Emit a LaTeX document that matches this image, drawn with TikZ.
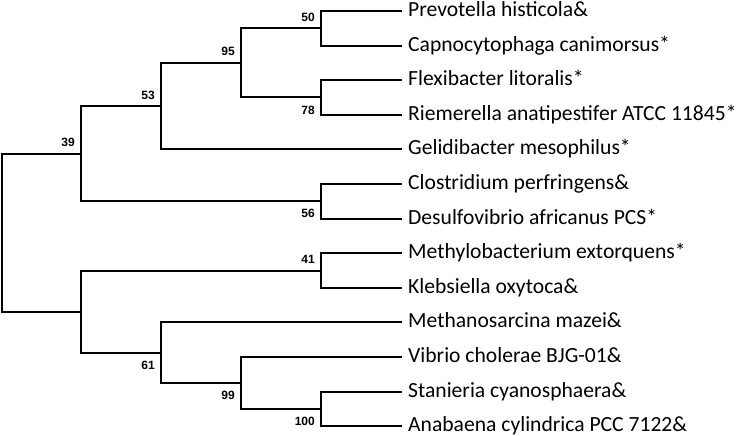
\documentclass[tikz,border=0pt]{standalone}
\usepackage{fontspec}
\setmainfont{Carlito}
\newfontfamily\labfont{Liberation Sans}
\begin{document}
\begin{tikzpicture}[x=1pt,y=-1pt,
  br/.style={line width=2pt,line cap=rect},
  leaf/.style={anchor=base west,inner sep=0pt,font=\fontsize{21.6}{21.6}\selectfont},
  supA/.style={anchor=base east,inner sep=0pt,font=\labfont\bfseries\fontsize{12}{12}\selectfont,xshift=-6pt,yshift=7pt},
  supB/.style={anchor=base east,inner sep=0pt,font=\labfont\bfseries\fontsize{12}{12}\selectfont,xshift=-6pt,yshift=-16.5pt}]
\useasboundingbox (0,0) rectangle (745,436);
% leaf tips
\foreach \n/\i in {l0/0,l1/1,l2/2,l3/3,l4/4,l5/5,l6/6,l7/7,l8/8,l9/9,l10/10,l11/11,l12/12}
  \coordinate (\n) at (401,{11+34.6*\i});
% internal nodes
\coordinate (n50) at (321,28.3);
\coordinate (n78) at (321,97.5);
\coordinate (n95) at (241,62.9);
\coordinate (n53) at (161,106.2);
\coordinate (n56) at (321,201.3);
\coordinate (n39) at (81,153.7);
\coordinate (n41) at (321,270.5);
\coordinate (n100) at (321,408.9);
\coordinate (n99) at (241,383);
\coordinate (n61) at (161,352.7);
\coordinate (nL) at (81,311.6);
\coordinate (root) at (2,232.6);
% branches
\draw[br] (root) |- (n39);
\draw[br] (root) |- (nL);
\draw[br] (n39) |- (n53);
\draw[br] (n39) |- (n56);
\draw[br] (n53) |- (n95);
\draw[br] (n53) |- (l4);
\draw[br] (n95) |- (n50);
\draw[br] (n95) |- (n78);
\draw[br] (n50) |- (l0);
\draw[br] (n50) |- (l1);
\draw[br] (n78) |- (l2);
\draw[br] (n78) |- (l3);
\draw[br] (n56) |- (l5);
\draw[br] (n56) |- (l6);
\draw[br] (nL) |- (n41);
\draw[br] (nL) |- (n61);
\draw[br] (n41) |- (l7);
\draw[br] (n41) |- (l8);
\draw[br] (n61) |- (l9);
\draw[br] (n61) |- (n99);
\draw[br] (n99) |- (l10);
\draw[br] (n99) |- (n100);
\draw[br] (n100) |- (l11);
\draw[br] (n100) |- (l12);
% leaf labels
\foreach \n/\t in {l0/{Prevotella histicola\&},l1/{Capnocytophaga canimorsus*},l2/{Flexibacter litoralis*},l3/{Riemerella anatipestifer ATCC 11845*},l4/{Gelidibacter mesophilus*},l5/{Clostridium perfringens\&},l6/{Desulfovibrio africanus PCS*},l7/{Methylobacterium extorquens*},l8/{Klebsiella oxytoca\&},l9/{Methanosarcina mazei\&},l10/{Vibrio cholerae BJG-01\&},l11/{Stanieria cyanosphaera\&},l12/{Anabaena cylindrica PCC 7122\&}}
  \node[leaf] (t\n) at ([xshift=7pt,yshift=-5.5pt]\n) {\t};
% support values
\node[supA] (s50) at (n50) {50};
\node[supA] (s95) at (n95) {95};
\node[supB] (s78) at (n78) {78};
\node[supA] (s53) at (n53) {53};
\node[supA] (s39) at (n39) {39};
\node[supB] (s56) at (n56) {56};
\node[supA] (s41) at (n41) {41};
\node[supB] (s61) at (n61) {61};
\node[supB] (s99) at (n99) {99};
\node[supB] (s100) at (n100) {100};
\end{tikzpicture}
\end{document}
